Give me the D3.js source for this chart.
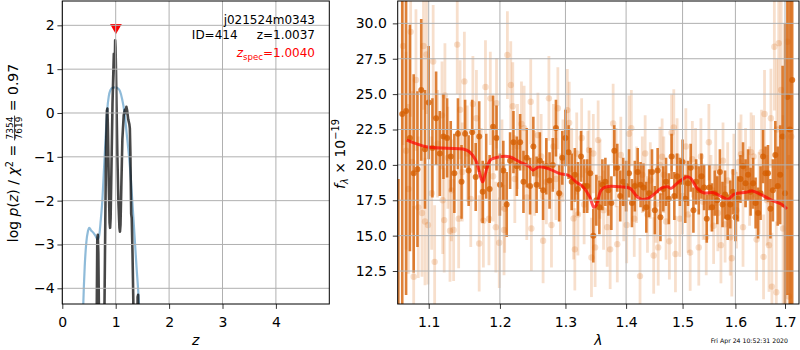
<!DOCTYPE html>
<html>
<head>
<meta charset="utf-8">
<script src="https://cdn.jsdelivr.net/npm/d3@7"></script>
<style>
  body { margin: 0; background: #fff; }
  text { font-family: 'DejaVu Sans', sans-serif; }
</style>
</head>
<body>
<script>
// ---- data: left panel, log p(z) ----
const pzZ = [0.62,0.645,0.655,0.665,0.675,0.69,0.70,
  0.775,0.79,0.805,0.82,0.835,0.845,0.855,0.87,0.885,0.895,
  0.905,0.92,0.94,0.955,0.965,0.975,0.982,0.99,0.997,1.005,
  1.015,1.03,1.05,1.07,1.08,1.09,1.105,1.125,1.15,1.17,
  1.185,1.20,1.215,1.235,1.255,1.265,1.275,1.29,1.30,1.315,
  1.33,1.35,1.40,1.41,1.42,1.43];
const pzLog = [-8,-4.5,-2.9,-2.78,-3.2,-5,-8,
  -8,-4.4,-2.5,-0.8,0.05,0.1,-0.4,-1.6,-2.5,-2.62,
  -2.4,-1.3,0.2,0.9,1.35,1.2,1.0,1.66,1.5,1.0,
  0.2,-0.9,-2.0,-2.62,-2.71,-2.55,-1.7,-0.6,-0.05,0.07,
  0.0,0.14,0.05,-0.15,-0.25,-0.35,-0.9,-2.3,-2.4,-3.2,
  -4.3,-8,-8,-4.2,-4.15,-8];

const priorZ = [0.37,0.393,0.42,0.45,0.48,0.505,0.54,0.58,0.62,0.66,
  0.69,0.72,0.75,0.78,0.81,0.84,0.87,0.90,0.94,0.99,
  1.04,1.08,1.12,1.16,1.205,1.267,1.33,1.39,1.436,1.46];
const priorLog = [-5.5,-4.36,-3.5,-2.95,-2.7,-2.62,-2.68,-2.73,-2.8,-2.88,
  -2.8,-2.45,-2.0,-1.3,-0.6,0.05,0.38,0.52,0.575,0.585,
  0.56,0.5,0.32,0.05,-0.46,-1.23,-2.37,-3.51,-4.36,-5];

const zSpec = 1.004, zSpecMark = 1.93;
const zTicks = [0, 1, 2, 3, 4];
const logTicks = [-4, -3, -2, -1, 0, 1, 2];

// ---- data: right panel, spectrum ----
const darkWave = [1.060,1.065,1.070,1.075,1.080,1.085,1.090,1.095,1.100,1.105,
  1.110,1.115,1.120,1.125,1.130,1.135,1.140,1.145,1.150,1.155,
  1.160,1.165,1.170,1.175,1.180,1.185,1.190,1.195,1.200,1.205,
  1.210,1.215,1.220,1.225,1.230,1.235,1.240,1.245,1.250,1.255,
  1.260,1.265,1.270,1.275,1.280,1.285,1.290,1.295,1.300,1.305,
  1.310,1.315,1.320,1.325,1.330,1.335,1.340,1.345,1.350,1.355,
  1.360,1.365,1.370,1.375,1.380,1.385,1.390,1.395,1.400,1.405,
  1.410,1.415,1.420,1.425,1.430,1.435,1.440,1.445,1.450,1.455,
  1.460,1.465,1.470,1.475,1.480,1.485,1.490,1.495,1.500,1.505,
  1.510,1.515,1.520,1.525,1.530,1.535,1.540,1.545,1.550,1.555,
  1.560,1.565,1.570,1.575,1.580,1.585,1.590,1.595,1.600,1.605,
  1.610,1.615,1.620,1.625,1.630,1.635,1.640,1.645,1.650,1.655,
  1.660,1.665,1.670,1.675,1.680,1.685,1.690,1.695,1.700,1.705,
  1.710,1.715];
const darkFlux = [8.0,23.6,23.8,21.9,19.4,19.7,25.3,21.1,24.4,21.2,
  23.3,20.8,22.0,21.9,20.6,19.4,22.2,18.8,22.2,19.6,
  22.3,19.15,22.0,18.1,19.9,18.3,22.7,21.9,18.6,19.6,
  17.2,20.3,21.6,19.9,21.6,18.8,20.5,18.5,21.3,18.6,
  20.3,18.2,19.9,18.9,20.0,22.6,18.0,20.5,21.9,20.9,
  18.8,19.3,18.3,20.6,18.5,18.5,19.4,15.0,17.5,17.0,
  18.6,18.8,18.2,17.3,21.0,19.8,17.8,18.8,18.5,19.4,
  17.3,18.5,19.5,18.6,18.4,17.0,18.0,19.5,16.8,19.6,
  16.3,18.3,18.8,17.6,20.6,17.8,19.2,18.8,20.2,17.6,
  18.7,19.8,16.8,18.8,18.2,19.2,18.4,16.2,18.4,17.0,
  18.0,17.5,19.5,17.2,17.9,16.3,17.2,18.1,16.3,17.6,
  19.0,19.9,18.7,19.3,18.1,18.7,17.3,16.6,18.0,20.6,
  19.4,19.4,16.9,18.2,20.7,18.5,19.3,22.0,18.0,24.8,
  22.5,26.0];
const darkErr = [11,14,13,8,7,5.5,5,4.2,4,3.5,
  3.3,3,3,2.8,2.5,2.8,2.5,2.6,2.4,2.5,
  2.3,2.4,2.5,2.2,2.3,2.4,2.2,2.3,2.2,2.1,
  2.3,2.0,2.2,2.1,2.0,2.2,2.1,2.0,2.1,2.0,
  2.0,2.1,2.0,2.0,1.9,2.0,2.0,1.9,2.0,1.9,
  2.0,1.9,1.9,1.8,1.9,1.9,1.8,1.9,1.8,1.9,
  1.8,1.7,1.8,1.9,1.8,1.7,1.8,1.7,1.8,1.7,
  1.7,1.8,1.7,1.6,1.7,1.8,1.7,1.6,1.7,1.6,
  1.7,1.6,1.7,1.8,1.6,1.7,1.6,1.7,1.6,1.7,
  1.6,1.7,1.6,1.6,1.7,1.6,1.6,1.7,1.6,1.7,
  1.6,1.7,1.6,1.6,1.7,1.6,1.7,1.6,1.7,1.6,
  1.7,1.7,1.7,1.8,1.7,1.8,1.8,1.8,1.9,1.9,
  1.9,2.0,2.1,2.2,2.4,2.8,3.5,5,12,14,
  15,16];

const lightWave = [1.066,1.070,1.073,1.076,1.078,1.080,1.083,1.086,1.091,1.093,
  1.095,1.097,1.099,1.104,1.106,1.108,1.112,1.118,1.119,1.121,
  1.122,1.126,1.129,1.131,1.134,1.139,1.141,1.143,1.146,1.149,
  1.153,1.158,1.161,1.166,1.170,1.173,1.176,1.179,1.184,1.186,
  1.190,1.194,1.195,1.199,1.203,1.206,1.207,1.211,1.216,1.219,
  1.222,1.226,1.232,1.236,1.240,1.246,1.247,1.252,1.257,1.262,
  1.265,1.270,1.274,1.278,1.281,1.285,1.288,1.292,1.296,1.303,
  1.306,1.310,1.313,1.315,1.318,1.320,1.326,1.330,1.336,1.338,
  1.342,1.345,1.348,1.353,1.356,1.362,1.368,1.373,1.378,1.383,
  1.385,1.391,1.396,1.401,1.405,1.409,1.414,1.418,1.424,1.428,
  1.433,1.437,1.442,1.448,1.452,1.456,1.459,1.463,1.466,1.470,
  1.476,1.480,1.484,1.487,1.490,1.495,1.500,1.506,1.510,1.514,
  1.518,1.524,1.530,1.534,1.538,1.544,1.549,1.553,1.558,1.562,
  1.566,1.572,1.576,1.580,1.585,1.590,1.593,1.597,1.602,1.607,
  1.611,1.615,1.620,1.628,1.631,1.636,1.642,1.647,1.652,1.656,
  1.658,1.663,1.667,1.671,1.673,1.678,1.682,1.683,1.687,1.692,
  1.696,1.705,1.708,1.713];
const lightFlux = [28.4,21.0,18.3,29.4,20.2,12.1,26.0,17.0,16.6,28.4,
  16.0,27.8,15.75,18.0,27.3,13.15,21.5,23.5,17.5,16.1,
  24.9,20.5,15.35,18.2,15.4,28.5,16.2,23.9,19.5,25.9,
  20.8,17.6,24.3,23.3,14.45,19.3,16.05,25.5,16.2,24.7,
  19.2,15.6,24.35,14.5,20.0,15.4,16.9,27.76,25.64,24.15,
  19.0,21.3,22.9,22.6,17.7,24.46,15.5,19.4,22.1,20.6,
  14.64,18.8,24.7,15.75,21.3,19.0,24.0,17.9,20.3,23.87,
  22.97,19.7,16.22,14.03,20.8,16.5,21.9,17.2,19.6,21.05,
  13.46,20.8,14.17,21.75,19.0,16.8,15.6,14.03,22.93,19.8,
  14.4,20.7,17.3,15.75,22.2,22.6,16.2,18.6,12.14,19.3,
  20.8,16.5,18.9,13.6,17.2,14.17,20.0,20.57,19.3,16.0,
  14.6,22.27,22.65,13.7,20.6,16.2,17.8,21.3,16.5,13.8,
  20.4,19.9,14.17,20.6,17.4,14.9,21.6,18.0,15.7,19.8,
  16.6,14.33,20.3,15.8,18.9,14.88,13.4,19.5,16.8,20.2,
  20.76,15.6,19.8,18.5,20.9,20.6,14.73,18.0,20.9,13.5,
  23.6,17.5,14.33,23.3,11.4,28.35,11.0,22.5,28.6,25.3,
  15.5,28.7,10.7,22.0];
const lightErr = [7,7,6,6,5,5,5,5,4.5,4.5,
  4.5,4.2,4.2,4,4,4,3.8,3.8,3.8,3.7,
  3.7,3.6,3.6,3.6,3.6,3.5,3.5,3.5,3.5,3.5,
  3.4,3.4,3.4,3.4,3.4,3.3,3.3,3.3,3.3,3.3,
  3.2,3.2,3.2,3.2,3.2,3.2,3.1,3.1,3.1,3.1,
  3.1,3.0,3.0,3.0,3.0,3.0,3.0,3.0,3.0,3.0,
  3.0,3.0,3.0,3.0,3.0,2.9,2.9,2.9,2.9,2.9,
  2.9,2.9,2.9,2.9,2.9,2.9,2.8,2.8,2.8,2.8,
  2.8,2.8,2.8,2.8,2.8,2.8,2.8,2.8,2.8,2.8,
  2.7,2.7,2.7,2.7,2.7,2.7,2.7,2.7,2.7,2.7,
  2.7,2.7,2.7,2.7,2.7,2.7,2.7,2.7,2.7,2.7,
  2.7,2.7,2.7,2.7,2.7,2.7,2.7,2.7,2.7,2.7,
  2.7,2.7,2.7,2.7,2.7,2.7,2.7,2.7,2.7,2.7,
  2.7,2.7,2.7,2.7,2.7,2.7,2.7,2.7,2.7,2.8,
  2.8,2.8,2.8,2.8,2.8,2.9,2.9,2.9,3.0,3.0,
  3.1,3.2,3.3,3.5,3.8,4.5,5,5,6,7,
  8,9,10,12];

const modelWave = [1.0709,1.097,1.1245,1.147,1.156,1.165,1.172,1.175,1.179,1.186,
  1.1997,1.214,1.229,1.244,1.249,1.259,1.275,1.290,1.306,1.317,
  1.328,1.339,1.346,1.350,1.358,1.367,1.390,1.407,1.419,1.428,
  1.443,1.461,1.473,1.479,1.491,1.509,1.515,1.527,1.539,1.558,
  1.573,1.586,1.598,1.621,1.633,1.653,1.672,1.692,1.704];
const modelFlux = [21.75,21.28,21.17,21.12,20.93,20.34,19.16,18.8,19.4,20.34,
  20.57,20.57,20.22,19.87,19.63,19.87,19.7,19.4,19.23,18.8,
  18.45,17.75,17.0,17.16,18.22,18.45,18.45,18.34,17.75,17.56,
  17.75,18.34,18.45,18.34,18.73,19.16,19.05,18.34,18.03,18.03,
  17.75,17.58,17.94,18.06,18.15,17.87,17.51,17.23,16.88];

const waveTicks = [1.1, 1.2, 1.3, 1.4, 1.5, 1.6, 1.7];
const fluxTicks = [12.5, 15, 17.5, 20, 22.5, 25, 27.5, 30];

const GRISM = '#d55e00';

// ---- svg ----
const svg = d3.select('body')
  .append('svg')
  .attr('width', 800)
  .attr('height', 350);

// panel boxes
const pzBox = { left: 62.3, right: 329.3, top: 1, bottom: 304 };
const spBox = { left: 397.7, right: 799, top: 1, bottom: 304 };

// scales
const xz = d3.scaleLinear().domain([0, 5.0]).range([pzBox.left, pzBox.right]);
const yp = d3.scaleLinear().domain([-4.358, 2.555]).range([pzBox.bottom, pzBox.top]);
const xw = d3.scaleLog().domain([1.0591, 1.7293]).range([spBox.left, spBox.right]);
const yf = d3.scaleLinear().domain([10.17, 31.58]).range([spBox.bottom, spBox.top]);

const defs = svg.append('defs');
const clip = (id, b) => defs.append('clipPath').attr('id', id)
  .append('rect')
  .attr('x', b.left).attr('y', b.top)
  .attr('width', b.right - b.left).attr('height', b.bottom - b.top);
clip('clipPz', pzBox);
clip('clipSp', spBox);

// grid helper (drawn on top of the data, like the reference)
const drawGrid = (g, xs, ys, xScale, yScale, b) => {
  g.selectAll('.gx').data(xs).enter().append('line')
    .attr('x1', d => xScale(d)).attr('x2', d => xScale(d))
    .attr('y1', b.top).attr('y2', b.bottom)
    .attr('stroke', '#b0b0b0').attr('stroke-width', 1);
  g.selectAll('.gy').data(ys).enter().append('line')
    .attr('x1', b.left).attr('x2', b.right)
    .attr('y1', d => yScale(d)).attr('y2', d => yScale(d))
    .attr('stroke', '#b0b0b0').attr('stroke-width', 1);
};

const styleAxis = g => {
  g.attr('font-size', null).attr('font-family', null);
  g.select('.domain').remove();
  g.selectAll('.tick line').attr('stroke', '#000').attr('stroke-width', 0.8);
  g.selectAll('.tick text').attr('fill', '#000').attr('font-size', 14);
};

const frame = b => svg.append('rect')
  .attr('x', b.left).attr('y', b.top)
  .attr('width', b.right - b.left).attr('height', b.bottom - b.top)
  .attr('fill', 'none').attr('stroke', '#000').attr('stroke-width', 1);

// mathtext-ish label built from pieces
const mathLabel = (parent, parts, size) => {
  const g = parent.append('g');
  let x = 0;
  parts.forEach(p => {
    if (p.frac) {
      const fs = size * 0.64;
      const num = g.append('text').attr('font-size', fs).attr('text-anchor', 'middle')
        .attr('y', -4.8).text(p.frac[0]);
      const w = num.node().getComputedTextLength() + 2;
      num.attr('x', x + w / 2);
      g.append('text').attr('font-size', fs).attr('text-anchor', 'middle')
        .attr('x', x + w / 2).attr('y', 4.4).text(p.frac[1]);
      g.append('line').attr('x1', x).attr('x2', x + w)
        .attr('y1', -3.4).attr('y2', -3.4)
        .attr('stroke', '#000').attr('stroke-width', 0.8);
      x += w;
    } else {
      const t = g.append('text')
        .attr('x', x).attr('y', p.dy || 0)
        .attr('font-size', size * (p.size || 1))
        .attr('font-style', p.it ? 'italic' : 'normal')
        .style('white-space', 'pre')
        .text(p.t);
      x += t.node().getComputedTextLength();
    }
  });
  g.attr('transform', `translate(${-x / 2},0)`);
  return g;
};

// ================= left panel =================
const pz = svg.append('g');
const pzData = pz.append('g').attr('clip-path', 'url(#clipPz)');

const priorLine = d3.line()
  .x((d, i) => xz(priorZ[i]))
  .y(d => yp(d))
  .curve(d3.curveMonotoneX);
pzData.append('path')
  .attr('d', priorLine(priorLog))
  .attr('fill', 'none')
  .attr('stroke', '#1f77b4')
  .attr('stroke-opacity', 0.5)
  .attr('stroke-width', 2.2);

const pzLine = d3.line()
  .x((d, i) => xz(pzZ[i]))
  .y(d => yp(d));
pzData.append('path')
  .attr('d', pzLine(pzLog))
  .attr('fill', 'none')
  .attr('stroke', '#000')
  .attr('stroke-opacity', 0.72)
  .attr('stroke-width', 2.6)
  .attr('stroke-linejoin', 'round');

pzData.append('path')
  .attr('d', d3.symbol(d3.symbolTriangle, 60)())
  .attr('transform', `translate(${xz(zSpec)},${yp(zSpecMark) - 1}) rotate(180)`)
  .attr('fill', 'red');

drawGrid(pz, zTicks, logTicks, xz, yp, pzBox);

pz.append('g')
  .attr('transform', `translate(0,${pzBox.bottom})`)
  .call(d3.axisBottom(xz).tickValues(zTicks).tickSize(4.9).tickPadding(8).tickFormat(d3.format('d')))
  .call(styleAxis);
pz.append('g')
  .attr('transform', `translate(${pzBox.left},0)`)
  .call(d3.axisLeft(yp).tickValues(logTicks).tickSize(4.9).tickPadding(2.8).tickFormat(d3.format('d')))
  .call(styleAxis);
frame(pzBox);

// annotation
const note = svg.append('g').attr('font-size', 12).attr('text-anchor', 'end');
note.append('text').attr('x', 315).attr('y', 24).text('j021524m0343');
note.append('text').attr('x', 315).attr('y', 39).style('white-space', 'pre').text('ID=414     z=1.0037');
const zs = note.append('text').attr('x', 315).attr('y', 57).attr('fill', 'red');
zs.append('tspan').attr('font-style', 'italic').text('z');
zs.append('tspan').attr('font-size', 8.6).attr('dy', 3).text('spec');
zs.append('tspan').attr('dy', -3).text('=1.0040');

// labels
svg.append('text').attr('x', (pzBox.left + pzBox.right) / 2).attr('y', 345)
  .attr('text-anchor', 'middle').attr('font-size', 14).attr('font-style', 'italic').text('z');

mathLabel(svg.append('g').attr('transform', 'translate(18,153) rotate(-90)'), [
  { t: 'log ' }, { t: 'p', it: 1 }, { t: '(' }, { t: 'z', it: 1 }, { t: ') / ' },
  { t: 'χ', it: 1 }, { t: '2', size: 0.7, dy: -5.5 }, { t: ' = ' },
  { frac: ['7354', '7619'] }, { t: ' = 0.97' }
], 14);

// ================= right panel =================
const sp = svg.append('g');
const spData = sp.append('g').attr('clip-path', 'url(#clipSp)');

const errorbars = (wave, flux, err, opacity, r, w) => {
  const g = spData.append('g').attr('fill', GRISM).attr('stroke', GRISM);
  g.selectAll('line').data(wave).enter().append('line')
    .attr('x1', d => xw(d)).attr('x2', d => xw(d))
    .attr('y1', (d, i) => yf(flux[i] - err[i]))
    .attr('y2', (d, i) => yf(flux[i] + err[i]))
    .attr('stroke-width', w)
    .attr('stroke-opacity', opacity);
  g.selectAll('circle').data(wave).enter().append('circle')
    .attr('cx', d => xw(d))
    .attr('cy', (d, i) => yf(flux[i]))
    .attr('r', r)
    .attr('stroke', 'none')
    .attr('fill-opacity', opacity);
};
errorbars(lightWave, lightFlux, lightErr, 0.2, 3.2, 2.8);
errorbars(darkWave, darkFlux, darkErr, 0.78, 3, 2.6);

const modelLine = d3.line()
  .x((d, i) => xw(modelWave[i]))
  .y(d => yf(d))
  .curve(d3.curveCatmullRom);
spData.append('path')
  .attr('d', modelLine(modelFlux))
  .attr('fill', 'none')
  .attr('stroke', 'red')
  .attr('stroke-opacity', 0.7)
  .attr('stroke-width', 3);

drawGrid(sp, waveTicks, fluxTicks, xw, yf, spBox);

sp.append('g')
  .attr('transform', `translate(0,${spBox.bottom})`)
  .call(d3.axisBottom(xw).tickValues(waveTicks).tickSize(4.9).tickPadding(8).tickFormat(d3.format('.1f')))
  .call(styleAxis);
sp.append('g')
  .attr('transform', `translate(${spBox.left},0)`)
  .call(d3.axisLeft(yf).tickValues(fluxTicks).tickSize(4.9).tickPadding(6).tickFormat(d3.format('.1f')))
  .call(styleAxis);
frame(spBox);

svg.append('text').attr('x', (spBox.left + spBox.right) / 2).attr('y', 345)
  .attr('text-anchor', 'middle').attr('font-size', 14).attr('font-style', 'italic').text('λ');

mathLabel(svg.append('g').attr('transform', 'translate(345,154) rotate(-90)'), [
  { t: 'f', it: 1 }, { t: 'λ', it: 1, size: 0.7, dy: 3 }, { t: ' × 10' },
  { t: '−19', size: 0.7, dy: -6 }
], 14);

// timestamp
svg.append('text').attr('x', 788).attr('y', 342.5)
  .attr('text-anchor', 'end').attr('font-size', 6.2)
  .text('Fri Apr 24 10:52:31 2020');
</script>
</body>
</html>
